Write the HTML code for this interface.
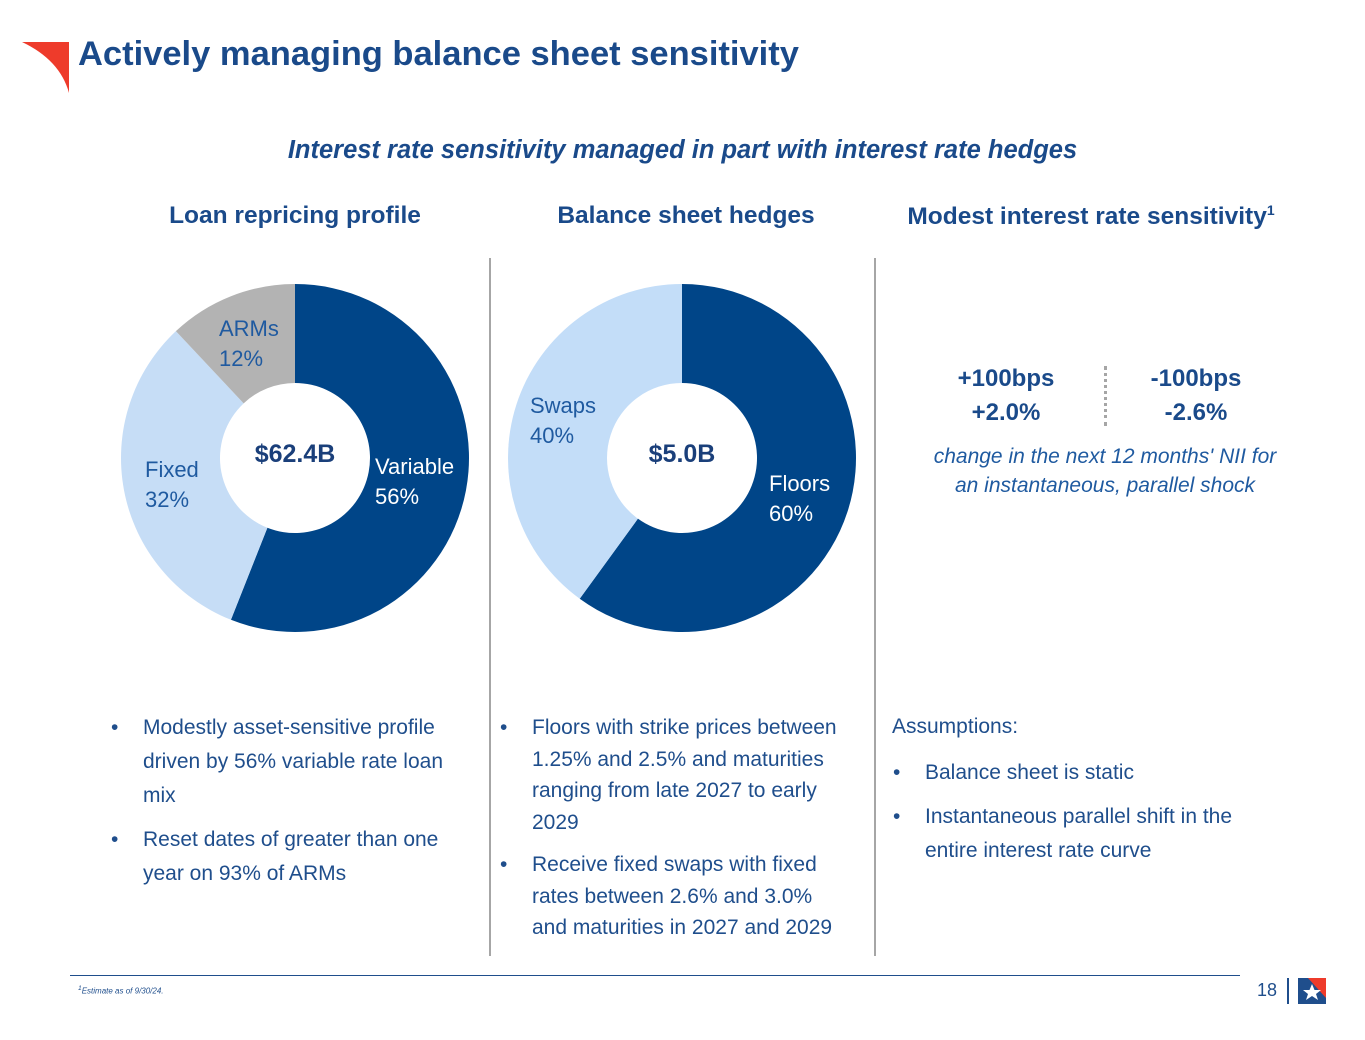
<!DOCTYPE html>
<html><head><meta charset="utf-8">
<style>
body{margin:0;width:1365px;height:1040px;background:#fff;font-family:"Liberation Sans",sans-serif;position:relative;overflow:hidden;color:#1f4e8c}
.a{position:absolute}
.h{font-weight:bold;font-size:24.5px;color:#1a4a8a;text-align:center;white-space:nowrap}
ul{margin:0;padding:0;list-style:none}
li{position:relative;padding-left:32px;font-size:21px;line-height:34px;margin-bottom:10px;color:#1f4e8c}
li:before{content:"•";position:absolute;left:0;top:0}
.big{font-weight:bold;font-size:24px;color:#1a4a8a;text-align:center;line-height:34px}
</style></head><body>
<svg class="a" style="left:20px;top:40px" width="52" height="55"><path d="M2,2 L49,2 L49,53 Q40,20 2,2Z" fill="#ee3b2b"/></svg>
<div class="a" style="left:78px;top:35px;font-size:34.5px;font-weight:bold;color:#1a4a8a">Actively managing balance sheet sensitivity</div>
<div class="a" style="left:0;width:1365px;top:136px;text-align:center;font-size:25.5px;font-weight:bold;font-style:italic;color:#1a4a8a">Interest rate sensitivity managed in part with interest rate hedges</div>
<div class="a h" style="left:95px;width:400px;top:202px">Loan repricing profile</div>
<div class="a h" style="left:486px;width:400px;top:202px">Balance sheet hedges</div>
<div class="a h" style="left:886px;width:410px;top:202px">Modest interest rate sensitivity<sup style="font-size:14px">1</sup></div>
<div class="a" style="left:489px;top:258px;width:2px;height:698px;background:#a6a6a6"></div>
<div class="a" style="left:874px;top:258px;width:2px;height:698px;background:#a6a6a6"></div>
<svg class="a" id="charts" style="left:0;top:0" width="1365" height="700"></svg>
<div class="a big" style="left:906px;width:200px;top:362px">+100bps<br>+2.0%</div>
<div class="a big" style="left:1096px;width:200px;top:362px">-100bps<br>-2.6%</div>
<div class="a" style="left:1104px;top:366px;height:60px;border-left:3px dotted #a6a6a6"></div>
<div class="a" style="left:880px;width:450px;top:442px;text-align:center;font-style:italic;font-size:21px;line-height:29px;color:#1f5aa0">change in the next 12 months' NII for<br>an instantaneous, parallel shock</div>
<ul class="a" style="left:111px;top:711px;width:350px"><li>Modestly asset-sensitive profile driven by 56% variable rate loan mix</li><li>Reset dates of greater than one year on 93% of ARMs</li></ul>
<ul class="a" style="left:500px;top:712px;width:352px"><li style="line-height:31.5px;margin-bottom:11px">Floors with strike prices between 1.25% and 2.5% and maturities ranging from late 2027 to early 2029</li><li style="line-height:31.5px">Receive fixed swaps with fixed rates between 2.6% and 3.0% and maturities in 2027 and 2029</li></ul>
<div class="a" style="left:892px;top:715px;font-size:21px">Assumptions:</div>
<ul class="a" style="left:893px;top:756px;width:360px"><li>Balance sheet is static</li><li>Instantaneous parallel shift in the entire interest rate curve</li></ul>
<div class="a" style="left:70px;top:975px;width:1170px;height:1px;background:#1f4e8c"></div>
<div class="a" style="left:78px;top:985px;font-size:8px;font-style:italic"><sup>1</sup>Estimate as of 9/30/24.</div>
<div class="a" style="left:1257px;top:980px;font-size:18px">18</div>
<div class="a" style="left:1287px;top:978px;width:2px;height:26px;background:#1f4e8c"></div>
<svg class="a" style="left:1298px;top:978px" width="28" height="26"><rect width="28" height="26" fill="#1f4e8c"/><path d="M10,0 L28,0 L28,20Z" fill="#ee3b2b"/><polygon points="14,6 16.5,12 23,12 18,16 20,22 14,18 8,22 10,16 5,12 11.5,12" fill="#fff"/></svg>
<script>
const loanCategories=["Variable","Fixed","ARMs"];
const loanValues=[56,32,12];
const loanColors=["#004588","#c6ddf6","#b3b3b3"];
const hedgeCategories=["Floors","Swaps"];
const hedgeValues=[60,40];
const hedgeColors=["#004588","#c3ddf8"];
const NS="http://www.w3.org/2000/svg";
const svg=document.getElementById('charts');
function arc(cx,cy,r0,r1,a0,a1){
 const p=(r,a)=>[cx+r*Math.sin(a),cy-r*Math.cos(a)];
 const l=(a1-a0)>Math.PI?1:0;
 const [x0,y0]=p(r1,a0),[x1,y1]=p(r1,a1),[x2,y2]=p(r0,a1),[x3,y3]=p(r0,a0);
 return `M${x0},${y0}A${r1},${r1} 0 ${l} 1 ${x1},${y1}L${x2},${y2}A${r0},${r0} 0 ${l} 0 ${x3},${y3}Z`;
}
function donut(cx,cy,cats,vals,cols,labelPos,labelCols,name,total){
 const sum=vals.reduce((a,b)=>a+b,0);let a=0;
 vals.forEach((v,i)=>{
  const a1=a+v/sum*2*Math.PI;
  const p=document.createElementNS(NS,'path');
  p.setAttribute('d',arc(cx,cy,75,174,a,a1));p.setAttribute('fill',cols[i]);
  
  
  svg.appendChild(p);
  const t=document.createElementNS(NS,'text');
  t.setAttribute('x',cx+labelPos[i][0]);t.setAttribute('y',cy+labelPos[i][1]);
  t.setAttribute('fill',labelCols[i]);t.setAttribute('font-size','22');t.setAttribute('font-family','Liberation Sans, sans-serif');
  
  
  const s1=document.createElementNS(NS,'tspan');s1.setAttribute('x',cx+labelPos[i][0]);s1.textContent=cats[i];
  const s2=document.createElementNS(NS,'tspan');s2.setAttribute('x',cx+labelPos[i][0]);s2.setAttribute('dy','30');s2.textContent=vals[i]+'%';
  t.appendChild(s1);t.appendChild(s2);svg.appendChild(t);
  a=a1;
 });
 const c=document.createElementNS(NS,'text');
 c.setAttribute('x',cx);c.setAttribute('y',cy+4);c.setAttribute('text-anchor','middle');
 c.setAttribute('font-size','25');c.setAttribute('font-weight','bold');c.setAttribute('fill','#1a3f7a');c.setAttribute('font-family','Liberation Sans, sans-serif');
 
 
 c.textContent=total;svg.appendChild(c);
}
donut(295,458,loanCategories,loanValues,loanColors,[[80,16],[-150,19],[-76,-122]],["#fff","#1f5aa0","#1f5aa0"],'loan','$62.4B');
donut(682,458,hedgeCategories,hedgeValues,hedgeColors,[[87,33],[-152,-45]],["#fff","#1f5aa0"],'hedge','$5.0B');
</script>
</body></html>
